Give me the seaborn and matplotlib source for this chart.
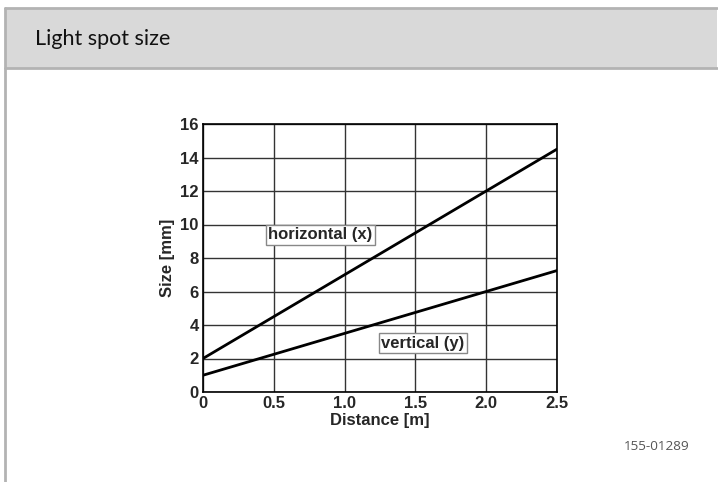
import pandas as pd
import matplotlib.pyplot as plt
import seaborn as sns
from matplotlib.patches import Rectangle
from matplotlib.lines import Line2D

# data
distance = [0, 0.5, 1.0, 1.5, 2.0, 2.5]
horizontal = [2, 4.5, 7, 9.5, 12, 14.5]
vertical = [1, 2.25, 3.5, 4.75, 6, 7.25]
x_ticks = [0, 0.5, 1.0, 1.5, 2.0, 2.5]
x_tick_labels = ["0", "0.5", "1.0", "1.5", "2.0", "2.5"]
y_ticks = [0, 2, 4, 6, 8, 10, 12, 14, 16]

df = pd.DataFrame({
    "Distance": distance * 2,
    "Size": horizontal + vertical,
    "Series": ["horizontal (x)"] * len(distance) + ["vertical (y)"] * len(distance),
})

sns.set_style("white")
plt.rcParams["font.family"] = ["Liberation Sans", "DejaVu Sans"]

fig = plt.figure(figsize=(7.18, 4.82), dpi=100)

# header band and frame
fig.patches.append(Rectangle((5 / 718, 1 - 68 / 482), 712 / 718, 60 / 482,
                             transform=fig.transFigure, facecolor="#d9d9d9",
                             edgecolor="none", zorder=0))
fig.lines.append(Line2D([5 / 718, 717 / 718], [1 - 8 / 482, 1 - 8 / 482],
                        transform=fig.transFigure, color="#b3b3b3", lw=2))
fig.lines.append(Line2D([5 / 718, 717 / 718], [1 - 68 / 482, 1 - 68 / 482],
                        transform=fig.transFigure, color="#b3b3b3", lw=2))
fig.lines.append(Line2D([5 / 718, 5 / 718], [1 - 8 / 482, 0],
                        transform=fig.transFigure, color="#b3b3b3", lw=2))
fig.text(35 / 718, 1 - 39 / 482, "Light spot size", family=["Lato", "DejaVu Sans"],
         fontsize=15.5, va="center", ha="left", color="#111111")
fig.text(690 / 718, 1 - 447 / 482, "155-01289", family=["Open Sans", "DejaVu Sans"],
         fontsize=9.7, va="center", ha="right", color="#555555")

ax = fig.add_axes([203 / 718, 1 - 392 / 482, 354 / 718, 268 / 482])
sns.lineplot(data=df, x="Distance", y="Size", hue="Series",
             palette=["black", "black"], linewidth=2, legend=False, ax=ax)

ax.set_xlim(0, 2.5)
ax.set_ylim(0, 16)
ax.set_xticks(x_ticks)
ax.set_xticklabels(x_tick_labels)
ax.set_yticks(y_ticks)
ax.grid(True, color="#333333", linewidth=1)
ax.set_axisbelow(True)
for s in ax.spines.values():
    s.set_color("black")
    s.set_linewidth(1.2)
ax.tick_params(axis="y", length=0, pad=3, labelsize=12)
ax.tick_params(axis="x", length=0, pad=3, labelsize=12)
for lab in ax.get_xticklabels() + ax.get_yticklabels():
    lab.set_fontweight("bold")
ax.set_xlabel("Distance [m]", fontsize=12, fontweight="bold", labelpad=1)
ax.set_ylabel("Size [mm]", fontsize=12, fontweight="bold", labelpad=4)

box = dict(boxstyle="square,pad=0.15", facecolor="white", edgecolor="#888888", linewidth=1)
ax.text(0.83, 9.4, "horizontal (x)", ha="center", va="center", fontsize=12,
        fontweight="bold", bbox=box, zorder=5)
ax.text(1.553, 2.9, "vertical (y)", ha="center", va="center", fontsize=12,
        fontweight="bold", bbox=box, zorder=5)

fig.savefig("out.png", dpi=100)
